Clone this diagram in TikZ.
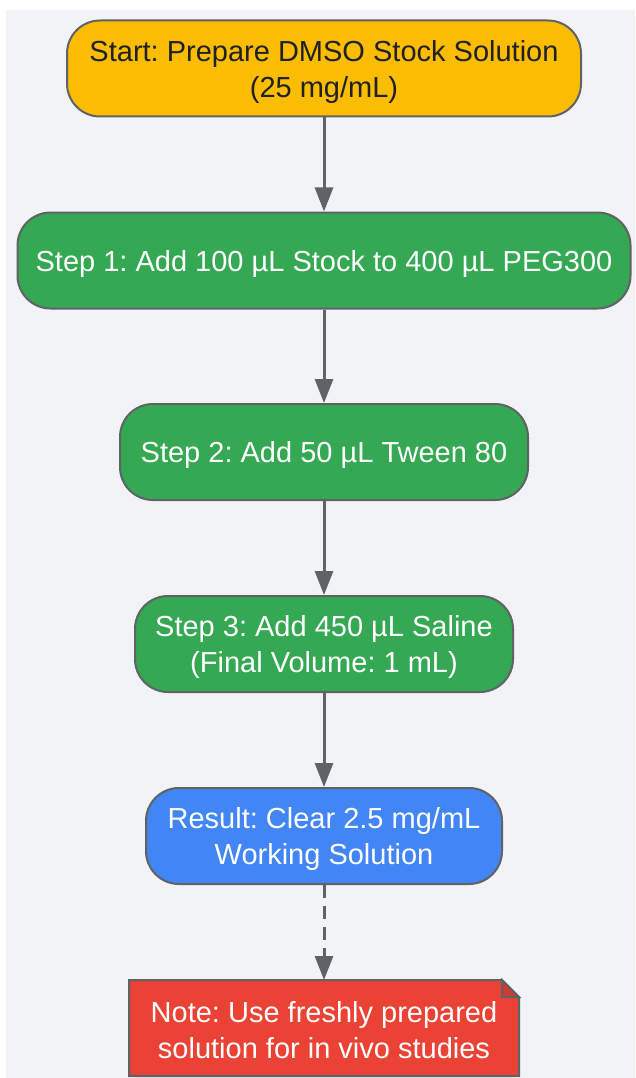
\documentclass[tikz,border=0pt]{standalone}
\usepackage{fontspec}
\setmainfont{Liberation Sans}
\usetikzlibrary{arrows.meta}
\definecolor{bgc}{HTML}{F1F3F4}
\definecolor{edgec}{HTML}{5F6368}
\definecolor{startc}{HTML}{FBBC04}
\definecolor{stepc}{HTML}{34A853}
\definecolor{resc}{HTML}{4285F4}
\definecolor{notec}{HTML}{EA4335}
\definecolor{darktext}{HTML}{202124}
\frenchspacing
\begin{document}
\begin{tikzpicture}[x=1pt,y=-1pt,
  txt/.style={align=center, inner sep=0pt, font=\fontsize{29}{36}\selectfont\frenchspacing, text=white},
  box/.style={txt, text depth=0pt, draw=edgec, line width=2pt, rounded corners=33pt, minimum height=96pt},
  conn/.style={draw=edgec, line width=3pt, -{Triangle[length=24pt,width=18pt]}},
]
\useasboundingbox (0,0) rectangle (635,1078);
\fill[bgc] (6,10) rectangle (635,1078);

\node[box, fill=startc, text=darktext, minimum width=514pt] (start) at (324,68.5)
  {Start: Prepare DMSO Stock Solution\\(25 mg/mL)};
\node[box, fill=stepc, minimum width=613pt] (s1) at (324,260.5)
  {Step 1: Add 100 µL Stock to 400 µL PEG300};
\node[box, fill=stepc, minimum width=408pt] (s2) at (324,452)
  {Step 2: Add 50 µL Tween 80};
\node[box, fill=stepc, minimum width=378pt] (s3) at (324,644)
  {Step 3: Add 450 µL Saline\\(Final Volume: 1 mL)};
\node[box, fill=resc, minimum width=356pt] (res) at (324,836)
  {Result: Clear 2.5 mg/mL\\Working Solution};
\coordinate (note) at (324,1030);
\fill[notec, draw=edgec, line width=2pt, line join=miter]
  (129,980) -- (502,980) -- (519,997) -- (519,1076) -- (129,1076) -- cycle;
\fill[notec!88!black, draw=edgec, line width=2pt, line join=miter]
  (502,980) -- (502,997) -- (519,997) -- cycle;
\node[txt, minimum width=390pt, minimum height=96pt] (notetext) at (note)
  {Note: Use freshly prepared\\solution for in vivo studies};
\coordinate (notetop) at (324,980);

\draw[conn] (start.south) -- (s1.north);
\draw[conn] (s1.south) -- (s2.north);
\draw[conn] (s2.south) -- (s3.north);
\draw[conn] (s3.south) -- (res.north);
\draw[conn, dash pattern=on 13pt off 8pt] (res.south) -- (notetop);
\end{tikzpicture}
\end{document}
